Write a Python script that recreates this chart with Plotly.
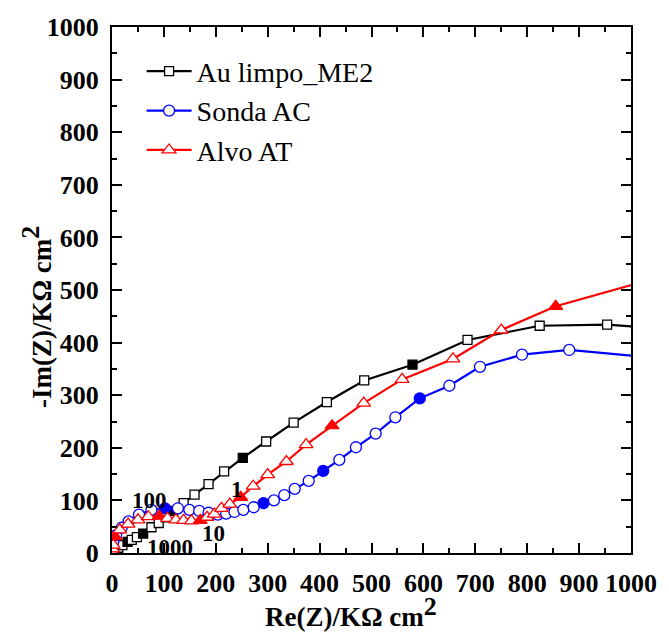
import plotly.graph_objects as go

# Nyquist data, ordered from high frequency (origin) to low frequency
au_x = [2, 6, 12, 20, 30, 38, 48, 60, 76, 90, 104, 118, 138, 159, 186, 216, 252,
        297, 350, 414, 486, 579, 685, 824, 954, 1080]
au_y = [2, 5, 10, 15, 21, 25, 30, 37, 49, 57, 68, 80, 95, 111, 131, 155, 181,
        212, 248, 287, 328, 358, 405, 432, 434, 425]
au_filled = [4, 7, 11, 16, 21]

ac_x = [0, 2.4, 8, 18.6, 32, 52, 76, 102, 127, 149, 168, 186, 204, 220, 236, 253,
        273, 292, 312, 332, 352, 379, 407, 438, 470, 508, 546, 593, 650, 709, 790,
        881, 1060]
ac_y = [6, 21, 34, 48, 60, 73, 82, 85, 85, 82, 80, 76.5, 73, 75, 78, 82,
        87, 95, 100, 110, 122, 137, 156, 177, 201, 227, 258, 294, 318, 354, 377,
        386, 370]
ac_filled = [7, 17, 22, 27]

at_x = [0, 1, 2.5, 6, 15, 31, 50, 70, 91, 107, 123, 138, 153, 170, 183, 197, 211,
        227, 248, 272, 300, 336, 374, 424, 485, 559, 657, 750, 855, 1050]
at_y = [2, 8, 15, 31, 44, 55, 63, 69, 70, 66, 63, 62, 61, 62, 68, 74, 85,
        93, 106, 127, 149, 174, 206, 242, 285, 330, 369, 424, 469, 523]
at_filled = [3, 8, 13, 18, 23, 28]

freq_labels = ["1000", "100", "10", "1"]
freq_x = [112, 72, 195, 241]
freq_y = [11, 100, 38, 121]

ticks = list(range(0, 1001, 100))

SERIF = "Liberation Serif"


def fills(n, idx, color):
    return [color if i in idx else "white" for i in range(n)]


fig = go.Figure()

series = [
    ("Au limpo_ME2", au_x, au_y, au_filled, "#000000", "square", 9),
    ("Sonda AC", ac_x, ac_y, ac_filled, "#0000FF", "circle", 11),
    ("Alvo AT", at_x, at_y, at_filled, "#FF0000", "triangle-up", 12),
]
for name, xs, ys, filled, col, sym, size in series:
    fig.add_trace(go.Scatter(
        x=xs, y=ys, name=name, mode="lines+markers",
        line=dict(color=col, width=2.2),
        marker=dict(symbol=sym, size=size,
                    color=fills(len(xs), filled, col),
                    line=dict(color=col, width=1.3)),
    ))

for t, fx, fy in zip(freq_labels, freq_x, freq_y):
    fig.add_annotation(x=fx, y=fy, text=t, showarrow=False,
                       font=dict(family=SERIF, size=23, color="black", weight="bold"),
                       xanchor="center", yanchor="middle")

axis_common = dict(
    range=[0, 1000], tickmode="array", tickvals=ticks,
    ticktext=[str(v) for v in ticks],
    ticks="inside", ticklen=10, tickwidth=2, tickcolor="black",
    minor=dict(dtick=50, ticks="inside", ticklen=5, tickwidth=2, tickcolor="black"),
    showline=True, linewidth=2, linecolor="black", mirror="ticks",
    showgrid=False, zeroline=False,
    tickfont=dict(family=SERIF, size=26, color="black", weight="bold"),
    ticklabelstandoff=6,
)
fig.update_xaxes(**axis_common)
fig.update_yaxes(**axis_common)

sup2 = '<sup><span style="font-size:26px">2</span></sup>'
fig.add_annotation(xref="paper", yref="paper", x=0.46, y=-0.112,
                   text="Re(Z)/KΩ cm" + sup2, showarrow=False,
                   font=dict(family=SERIF, size=27, color="black", weight="bold"),
                   xanchor="center", yanchor="middle")
fig.add_annotation(xref="paper", yref="paper", x=-0.146, y=0.449,
                   text="-Im(Z)/KΩ cm" + sup2, showarrow=False, textangle=-90,
                   font=dict(family=SERIF, size=27, color="black", weight="bold"),
                   xanchor="center", yanchor="middle")

fig.update_layout(
    width=669, height=633,
    margin=dict(l=112, r=30, t=27, b=80),
    paper_bgcolor="white", plot_bgcolor="white",
    showlegend=True,
    legend=dict(x=0.057, y=0.963, xanchor="left", yanchor="top",
                bgcolor="rgba(0,0,0,0)", borderwidth=0,
                font=dict(family=SERIF, size=28, color="black"),
                tracegroupgap=0, itemwidth=45),
)

fig.write_html("out.html")
